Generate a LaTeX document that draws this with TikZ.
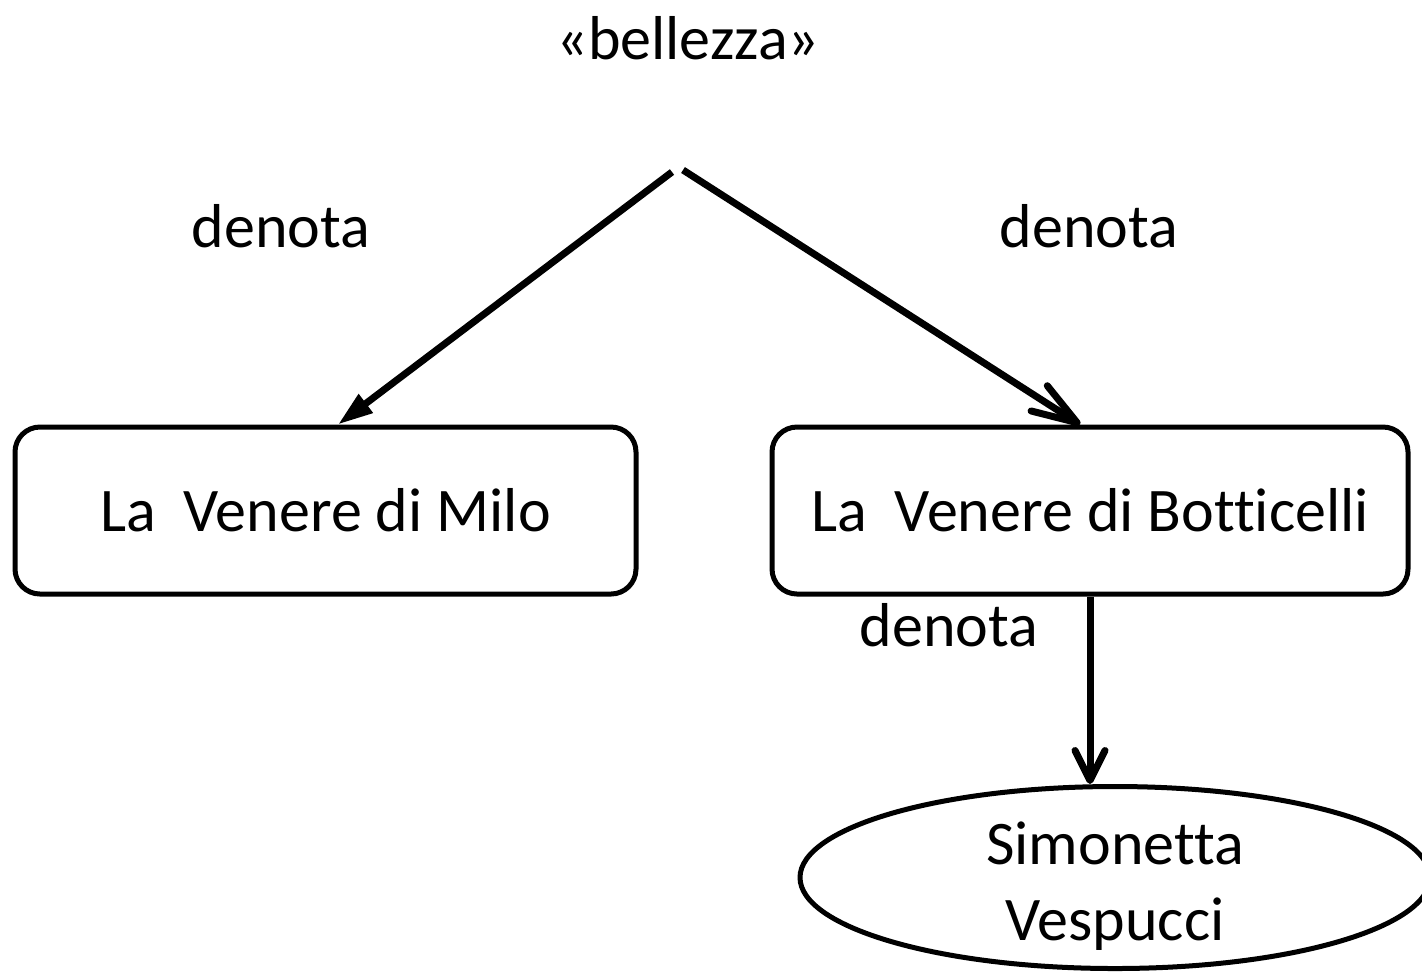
\documentclass[tikz,border=0pt]{standalone}
\usepackage{fontspec}
\setmainfont[Ligatures=NoCommon]{Carlito}
\usetikzlibrary{arrows.meta,shapes.geometric}

\begin{document}
\begin{tikzpicture}[x=0.5pt, y=-0.5pt,
  every node/.style={font=\fontsize{31}{38}\selectfont},
  box/.style={draw, line width=2.5pt, rounded corners=12.5pt, minimum height=83.5pt, inner sep=0pt},
  oval/.style={draw, ellipse, line width=2.5pt, minimum width=315pt, minimum height=91pt, inner sep=0pt, align=center,
    text height=62.5pt, text depth=0pt},
  rel/.style={line width=3.5pt}]
\useasboundingbox (0,0) rectangle (1422,971);

\node (bellezza) at (688,38) {«bellezza»};
\coordinate (apexL) at (672,172);
\coordinate (apexR) at (683,170);

\node[box, minimum width=310.5pt] (milo) at (325.5,510.5) {La\ \ Venere di Milo};
\node[box, minimum width=318pt] (botticelli) at (1090,510.5) {La\ \ Venere di Botticelli};
\node[oval] (simonetta) at (1115,877.5) {Simonetta\\Vespucci};

\node (denotaL) at (281,226) {denota};
\node (denotaR) at (1089,226) {denota};
\node (denotaB) at (949,625) {denota};

\draw[rel, -{Triangle[length=17.5pt, width=11pt]}] (apexL) -- ([xshift=6.25pt]milo.north);
\draw[rel, -{Straight Barb[length=22.5pt, width=15pt, round]}] (apexR) -- ([xshift=-5pt]botticelli.north);
\draw[rel, -{Straight Barb[length=15pt, width=15pt, round]}] (botticelli.south) -- (botticelli.south |- simonetta.north);
\end{tikzpicture}
\end{document}
